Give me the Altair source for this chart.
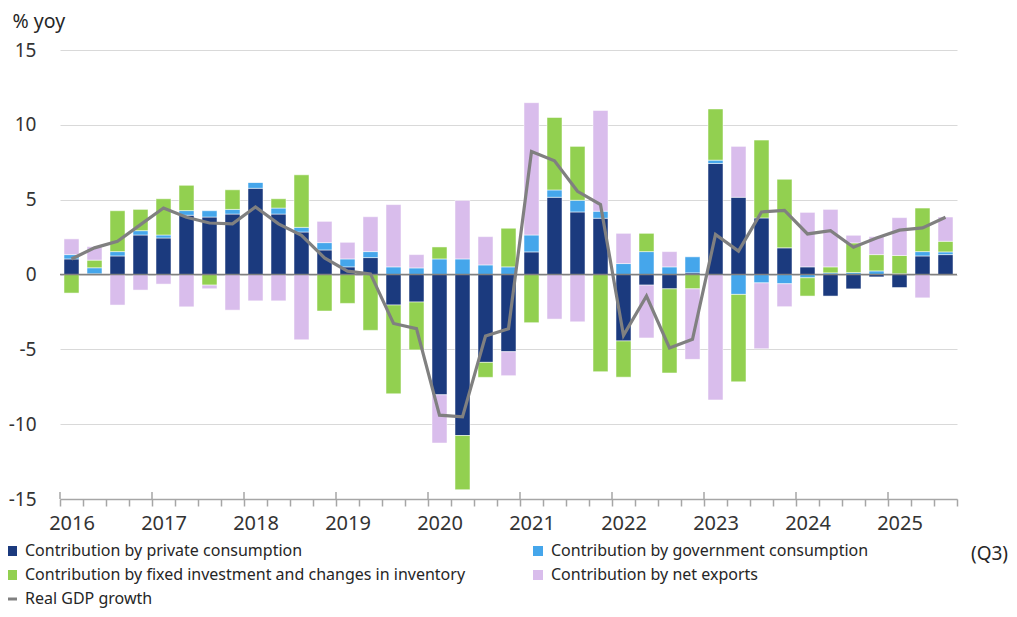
import altair as alt
import pandas as pd

years = [2016, 2017, 2018, 2019, 2020, 2021, 2022, 2023, 2024, 2025]
quarters = [f"{y}Q{q}" for y in years for q in (1, 2, 3, 4)][:39]
year_starts = [q for q in quarters if q.endswith("Q1")]

private = [1.04, 0.05, 1.24, 2.64, 2.44, 3.96, 3.84, 4.04, 5.76, 4.04, 2.84, 1.64,
           0.51, 1.13, -2.04, -1.84, -8.04, -10.76, -5.87, -5.16, 1.51, 5.16, 4.18, 3.76,
           -4.44, -0.71, -0.96, 0.11, 7.42, 5.16, 3.78, 1.78, 0.51, -1.44, -0.96, -0.16,
           -0.87, 1.24, 1.33]
government = [0.29, 0.40, 0.29, 0.29, 0.20, 0.31, 0.42, 0.31, 0.40, 0.40, 0.31, 0.49,
              0.53, 0.40, 0.51, 0.44, 1.04, 1.04, 0.64, 0.51, 1.13, 0.49, 0.78, 0.47,
              0.73, 1.53, 0.51, 1.07, 0.22, -1.33, -0.56, -0.62, -0.22, 0.11, 0.13, 0.24,
              0.05, 0.29, 0.18]
fixed_inv = [-1.24, 0.51, 2.73, 1.42, 2.42, 1.69, -0.71, 1.31, 0.0, 0.62, 3.51, -2.44,
             -1.93, -3.73, -5.93, -3.20, 0.80, -3.62, -1.00, 2.58, -3.22, 4.84, 3.60, -6.49,
             -2.42, 1.22, -5.62, -0.96, 3.42, -5.84, 5.20, 4.58, -1.22, 0.40, 1.98, 1.09,
             1.22, 2.91, 0.71]
net_exports = [1.05, 0.90, -2.04, -1.04, -0.64, -2.16, -0.24, -2.38, -1.76, -1.76, -4.36, 1.42,
               1.11, 2.33, 4.16, 0.89, -3.22, 3.91, 1.89, -1.60, 8.84, -2.98, -3.16, 6.73,
               2.02, -3.53, 1.02, -4.71, -8.38, 3.40, -4.40, -1.53, 3.64, 3.84, 0.51, 1.20,
               2.53, -1.56, 1.62]
gdp = [1.04, 1.78, 2.22, 3.33, 4.44, 3.82, 3.44, 3.38, 4.51, 3.38, 2.62, 1.11,
       0.22, 0.04, -3.27, -3.62, -9.40, -9.51, -4.11, -3.62, 8.22, 7.60, 5.56, 4.67,
       -4.07, -1.44, -4.91, -4.33, 2.67, 1.56, 4.18, 4.29, 2.71, 2.93, 1.82, 2.44,
       2.96, 3.11, 3.82]

series_names = ["Contribution by private consumption",
                "Contribution by government consumption",
                "Contribution by fixed investment and changes in inventory",
                "Contribution by net exports"]
series_colors = ["#1b3a7e", "#45a6eb", "#92d050", "#d9bdec"]
# legend fills column by column: left column private / fixed, right column government / net
legend_order = [0, 2, 1, 3]
gdp_name = "Real GDP growth"
gdp_color = "#808080"

rows = []
for i, q in enumerate(quarters):
    for k, vals in enumerate([private, government, fixed_inv, net_exports]):
        rows.append({"quarter": q, "series": series_names[k], "order": k, "value": vals[i]})
bars_df = pd.DataFrame(rows)
line_df = pd.DataFrame({"quarter": quarters, "series": gdp_name, "value": gdp})
zero_df = pd.DataFrame({"y": [0]})
major_df = pd.DataFrame({"quarter": year_starts, "lo": -15, "hi": -14.53})

FONT = "Noto Sans"
AX = "#a6a6a6"

x_scale = alt.Scale(domain=quarters, paddingInner=0, paddingOuter=0)
y_scale = alt.Scale(domain=[-15, 15], nice=False)

main_x_axis = alt.Axis(
    orient="bottom",
    title="(Q3)", tickBand="extent", tickSize=7, tickWidth=1.5, tickColor=AX,
    domainColor=AX, domainWidth=1.5, grid=False, labelAngle=0, labelOverlap=False,
    labelExpr="slice(datum.label + '', 4) == 'Q1' ? slice(datum.label + '', 0, 4) : ''",
    labelFont=FONT, labelFontSize=20, labelColor="#333333", labelPadding=7,
    titleX=929, titleY=54, titleBaseline="middle", titleAlign="center",
    titleFont=FONT, titleFontSize=19, titleFontWeight="normal", titleColor="#262626",
)
y_axis = alt.Axis(
    title="% yoy", values=[-15, -10, -5, 0, 5, 10, 15], domain=False, ticks=False,
    labelExpr="'' + datum.value",
    labelPadding=24, labelFont=FONT, labelFontSize=19, labelColor="#333333",
    gridColor="#d9d9d9", gridWidth=1, titleAngle=0, titleX=-48, titleY=-23,
    titleAlign="left", titleBaseline="alphabetic", titleFont=FONT, titleFontSize=19.5,
    titleFontWeight="normal", titleColor="#262626",
)

bars = alt.Chart(bars_df).mark_bar(width=15, stroke="white", strokeWidth=0.5).encode(
    x=alt.X("quarter:N", scale=x_scale, sort=quarters, axis=main_x_axis),
    y=alt.Y("value:Q", scale=y_scale, axis=y_axis, stack="zero"),
    color=alt.Color("series:N",
                    scale=alt.Scale(domain=[series_names[k] for k in legend_order],
                                    range=[series_colors[k] for k in legend_order]),
                    legend=alt.Legend(title=None, orient="none", legendX=-56, legendY=493,
                                      columns=2, columnPadding=64, rowPadding=8,
                                      symbolType="square", symbolSize=100, symbolStrokeWidth=0,
                                      labelFont=FONT, labelFontSize=16, labelColor="#262626",
                                      labelOffset=5, padding=0, labelLimit=700)),
    order=alt.Order("order:Q", sort="ascending"),
)

major = alt.Chart(major_df).mark_rule(color=AX, strokeWidth=1.5).encode(
    x=alt.X("quarter:N", scale=x_scale, sort=quarters, bandPosition=0),
    y=alt.Y("lo:Q", scale=y_scale),
    y2="hi:Q",
)

zero = alt.Chart(zero_df).mark_rule(color=gdp_color, strokeWidth=1.5).encode(
    y=alt.Y("y:Q", scale=y_scale),
)

line = alt.Chart(line_df).mark_line(strokeWidth=3.2).encode(
    x=alt.X("quarter:N", scale=x_scale, sort=quarters),
    y=alt.Y("value:Q", scale=y_scale),
    stroke=alt.Stroke("series:N", scale=alt.Scale(domain=[gdp_name], range=[gdp_color]),
                      legend=alt.Legend(title=None, orient="none", legendX=-56, legendY=541,
                                        symbolType="stroke", symbolSize=100,
                                        symbolStrokeWidth=3, labelFont=FONT, labelFontSize=16,
                                        labelColor="#262626", labelOffset=5, padding=0)),
)

chart = alt.layer(bars, major, zero, line).properties(
    width=897, height=449,
    padding={"left": 52, "top": 42, "right": 52, "bottom": 109},
    autosize=alt.AutoSizeParams(type="none"),
).configure(font=FONT).configure_view(stroke=None)

chart.save("out.html", embed_options={"renderer": "svg", "actions": False})
